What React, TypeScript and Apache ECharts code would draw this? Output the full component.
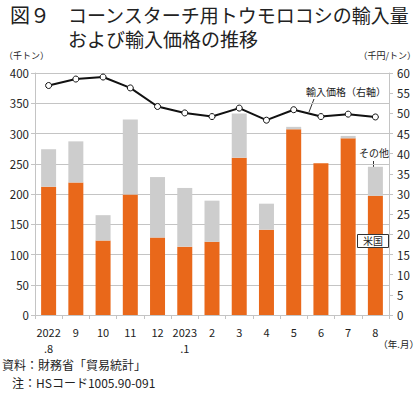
import React, { useEffect, useRef } from "react";
import * as echarts from "echarts";

const categories = ["2022\n.8", "9", "10", "11", "12", "2023\n.1", "2", "3", "4", "5", "6", "7", "8"];
const usVolume = [212, 219, 123, 199, 128, 113, 121, 260, 141, 307, 251, 292, 197];
const totalVolume = [274, 287, 165, 323, 228, 210, 189, 333, 184, 311, 251, 296, 245];
const otherVolume = totalVolume.map((t, i) => Math.max(0, t - usVolume[i]));
const importPrice = [56.9, 58.5, 59.0, 56.3, 51.7, 50.1, 49.2, 51.3, 48.3, 50.9, 49.2, 49.8, 49.1];
const leftTicks = { min: 0, max: 400, interval: 50 };
const rightTicks = { min: 0, max: 60, interval: 5 };

const FONT = "'Noto Sans CJK JP', 'Noto Sans', sans-serif";
const ORANGE = "#E9681A";
const GRAY = "#CDCDCD";
const GRID = "#C4C4C4";
const TEXT = "#222";

export default function App() {
  const ref = useRef<HTMLDivElement>(null);
  useEffect(() => {
    if (!ref.current) return;
    const chart = echarts.init(ref.current, null, { renderer: "svg" });
    chart.setOption({
      animation: false,
      textStyle: { fontFamily: FONT },
      grid: { left: 35, right: 31, top: 73, bottom: 78 },
      xAxis: {
        type: "category",
        data: categories,
        axisLine: { lineStyle: { color: GRID } },
        axisTick: { show: true, length: 4, lineStyle: { color: GRID } },
        axisLabel: { interval: 0, color: TEXT, fontSize: 11, lineHeight: 16, margin: 9, fontFamily: FONT },
      },
      yAxis: [
        {
          type: "value",
          ...leftTicks,
          axisLine: { show: true, lineStyle: { color: GRID } },
          axisTick: { show: true, length: 4, lineStyle: { color: GRID } },
          splitLine: { lineStyle: { color: GRID, width: 1 } },
          axisLabel: { color: TEXT, fontSize: 11.5, margin: 6, fontFamily: FONT },
        },
        {
          type: "value",
          ...rightTicks,
          position: "right",
          axisLine: { show: true, lineStyle: { color: GRID } },
          axisTick: { show: true, length: 4, lineStyle: { color: GRID } },
          splitLine: { show: false },
          axisLabel: { color: TEXT, fontSize: 11.5, margin: 8, fontFamily: FONT },
        },
      ],
      series: [
        {
          name: "米国",
          type: "bar",
          stack: "vol",
          barWidth: 15,
          data: usVolume,
          itemStyle: { color: ORANGE },
        },
        {
          name: "その他",
          type: "bar",
          stack: "vol",
          barWidth: 15,
          data: otherVolume,
          itemStyle: { color: GRAY },
        },
        {
          name: "輸入価格",
          type: "line",
          yAxisIndex: 1,
          data: importPrice,
          symbol: "circle",
          symbolSize: 6,
          lineStyle: { color: "#111", width: 2 },
          itemStyle: { color: "#fff", borderColor: "#111", borderWidth: 1 },
          z: 5,
        },
      ],
      graphic: [
        { type: "text", left: 10, top: 3, style: { text: "図９", fontSize: 20, lineHeight: 22, fill: TEXT, fontFamily: FONT } },
        { type: "text", left: 68, top: 3, style: { text: "コーンスターチ用トウモロコシの輸入量", fontSize: 19, lineHeight: 22, fill: TEXT, fontFamily: FONT } },
        { type: "text", left: 68, top: 27, style: { text: "および輸入価格の推移", fontSize: 19, lineHeight: 22, fill: TEXT, fontFamily: FONT } },
        { type: "text", left: 4, top: 51, style: { text: "（千トン）", fontSize: 9, fill: TEXT, fontFamily: FONT } },
        { type: "text", right: 4, top: 51, style: { text: "（千円/トン）", fontSize: 9, fill: TEXT, fontFamily: FONT } },
        { type: "text", right: 1, top: 339, style: { text: "（年.月）", fontSize: 9.5, fill: TEXT, fontFamily: FONT } },
        { type: "text", left: 2, top: 358, style: { text: "資料：財務省「貿易統計」", fontSize: 12, fill: TEXT, fontFamily: FONT } },
        { type: "text", left: 12, top: 376, style: { text: "注：HSコード1005.90-091", fontSize: 12, fill: TEXT, fontFamily: FONT } },
        { type: "text", left: 306, top: 86, style: { text: "輸入価格（右軸）", fontSize: 10, fill: TEXT, fontFamily: FONT } },
        { type: "line", shape: { x1: 314, y1: 99, x2: 309, y2: 112 }, style: { stroke: "#333", lineWidth: 1 } },
        { type: "text", left: 359, top: 147, style: { text: "その他", fontSize: 10, fill: TEXT, fontFamily: FONT } },
        { type: "line", shape: { x1: 373.5, y1: 161, x2: 373.5, y2: 172 }, style: { stroke: "#333", lineWidth: 1 } },
        { type: "line", shape: { x1: 375, y1: 225, x2: 374, y2: 234 }, style: { stroke: "#333", lineWidth: 1 } },
        {
          type: "rect",
          shape: { x: 357.5, y: 234.5, width: 31, height: 13 },
          style: { fill: "#fff", stroke: "#333", lineWidth: 1 },
          z: 10,
        },
        { type: "text", left: 363, top: 235, z: 11, style: { text: "米国", fontSize: 10, fill: TEXT, fontFamily: FONT } },
      ],
    });
    return () => chart.dispose();
  }, []);
  return <div ref={ref} style={{ position: "fixed", left: 0, top: 0, width: 420, height: 393, background: "#fff" }} />;
}
